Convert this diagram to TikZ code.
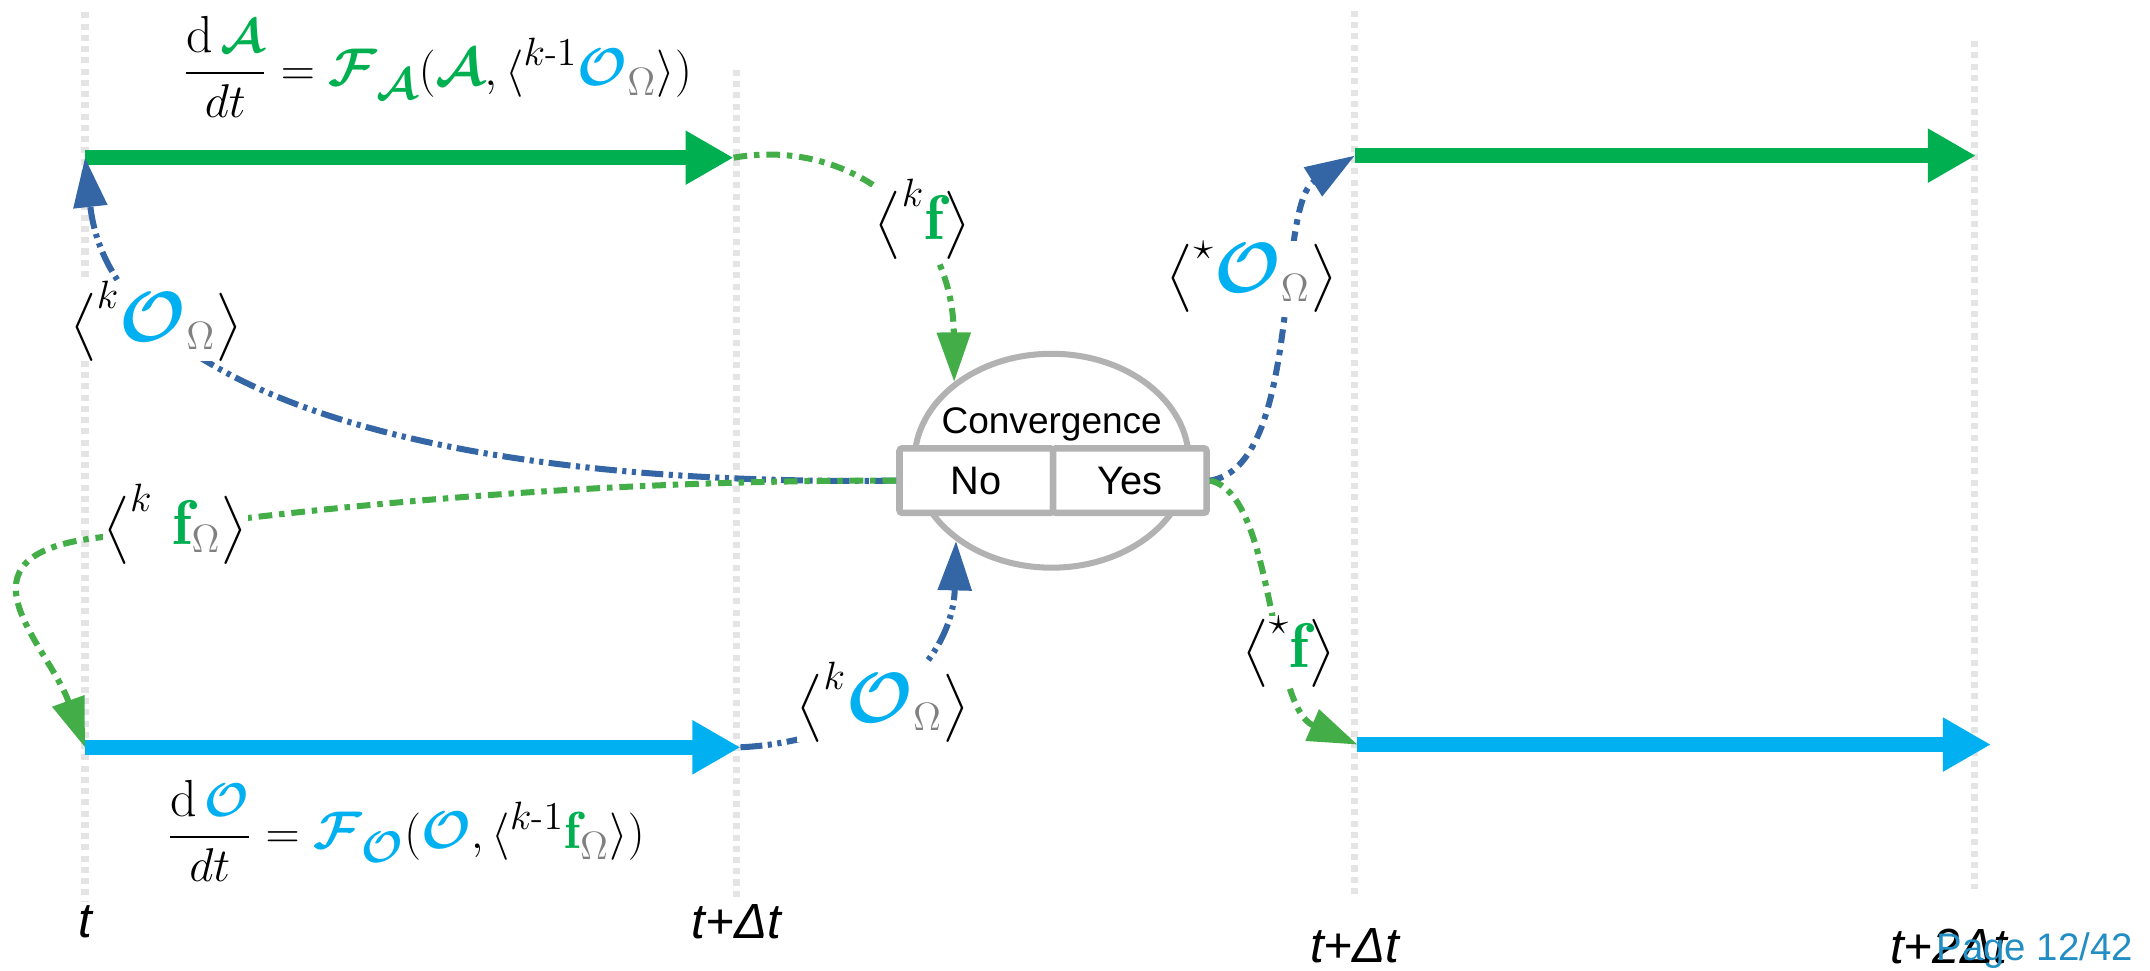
\documentclass[tikz,border=0pt]{standalone}
\usepackage{amsmath}
\usepackage{graphicx}
\usepackage{fontspec}
\newfontfamily\sansf{Liberation Sans}
\usetikzlibrary{arrows.meta,shapes.geometric}
\definecolor{eqgreen}{RGB}{0,176,80}
\definecolor{eqcyan}{RGB}{0,176,240}
\definecolor{omgray}{RGB}{128,128,128}
\definecolor{cgreen}{RGB}{67,174,72}
\definecolor{cblue}{RGB}{52,101,164}
\definecolor{gridgray}{RGB}{228,228,228}
\definecolor{convgray}{RGB}{178,178,178}
\definecolor{pagecol}{RGB}{34,142,196}
\newcommand{\scf}{1.12}
\newcommand{\sff}{1}
\newcommand{\cA}{{\color{eqgreen}\text{\scalebox{\scf}{$\boldsymbol{\mathcal{A}}$}}}}
\newcommand{\cO}{{\color{eqcyan}\text{\scalebox{\scf}{$\boldsymbol{\mathcal{O}}$}}}}
\newcommand{\nA}{{\color{eqgreen}\boldsymbol{\mathcal{A}}}}
\newcommand{\nO}{{\color{eqcyan}\boldsymbol{\mathcal{O}}}}
\newcommand{\cFg}{{\color{eqgreen}\text{\scalebox{\scf}{$\boldsymbol{\mathcal{F}}$}}}}
\newcommand{\cFc}{{\color{eqcyan}\text{\scalebox{\scf}{$\boldsymbol{\mathcal{F}}$}}}}
\newcommand{\Om}{{\color{omgray}\Omega}}
\newcommand{\bff}{{\color{eqgreen}\text{\scalebox{\sff}{$\mathbf{f}$}}}}
\tikzset{
  timeline/.style={draw=gridgray, line width=2.6pt, dash pattern=on 2.2pt off 1.9pt},
  bigarrow/.style={line width=5.5pt, -{Triangle[width=18.5pt,length=17.5pt]}},
  conn/.style={line width=2.2pt, -{Triangle[width=12pt,length=18pt]}},
  dashdot/.style={dash pattern=on 5pt off 2.5pt on 2pt off 2.5pt},
  dashdotdot/.style={dash pattern=on 8pt off 2pt on 1.5pt off 2pt on 1.5pt off 2pt},
  lbl/.style={fill=white, inner sep=0pt, font=\fontsize{20}{22}\selectfont\renewcommand{\scf}{1.25}\renewcommand{\sff}{1.15}},
  eqn/.style={inner sep=0pt, anchor=base, font=\fontsize{19}{22}\selectfont},
  timelbl/.style={inner sep=0pt, font=\sansf\itshape\fontsize{18}{20}\selectfont},
  boxpart/.style={draw=convgray, fill=white, line width=2.4pt, minimum width=56pt,
    minimum height=23.5pt, inner sep=0pt, rounded corners=1pt,
    font=\sansf\fontsize{14.5}{16}\selectfont},
}
\begin{document}
\begin{tikzpicture}[x=0.5pt,y=-0.5pt]
\useasboundingbox (0,0) rectangle (1568,708);
% time lines
\coordinate (L1t) at (62,9);   \coordinate (L1b) at (62,658);
\coordinate (L2t) at (537,51); \coordinate (L2b) at (537,656);
\coordinate (L3t) at (988,8);  \coordinate (L3b) at (988,655);
\coordinate (L4t) at (1440,30);\coordinate (L4b) at (1440,648);
\draw[timeline] (L1t) -- (L1b);
\draw[timeline] (L2t) -- (L2b);
\draw[timeline] (L3t) -- (L3b);
\draw[timeline] (L4t) -- (L4b);
% convergence node
\node[ellipse, draw=convgray, line width=2.2pt, minimum width=100pt, minimum height=78pt, inner sep=0pt] (conv) at (767,336) {};
\node[boxpart] (no) at (712,350.5) {No};
\node[boxpart] (yes) at (824,350.5) {Yes};
\node[anchor=base, inner sep=0pt, font=\sansf\fontsize{13.5}{15}\selectfont] (convtxt) at (767,316) {Convergence};
% thick arrows
\coordinate (A1s) at (62,115);  \coordinate (A1e) at (535,115);
\coordinate (A2s) at (62,545);  \coordinate (A2e) at (540,545);
\coordinate (A3s) at (988,113.5); \coordinate (A3e) at (1441,113.5);
\coordinate (A4s) at (990,543); \coordinate (A4e) at (1452,543);
\draw[bigarrow, eqgreen] (A1s) -- (A1e);
\draw[bigarrow, eqcyan] (A2s) -- (A2e);
\draw[bigarrow, eqgreen] (A3s) -- (A3e);
\draw[bigarrow, eqcyan] (A4s) -- (A4e);
% connectors
\draw[conn, cgreen, dashdot] (A1e) .. controls (620,100) and (695,160) .. (conv.141);
\draw[conn, cblue, dashdotdot] (no.west) .. controls (300,355) and (80,280) .. (A1s);
\coordinate (cvia) at (72,392);
\draw[conn, cgreen, dashdot] (no.west) .. controls (450,350) and (250,366) .. (cvia) .. controls (-40,405) and (35,470) .. (A2s);
\draw[conn, cblue, dashdotdot] (A2e) .. controls (640,540) and (695,480) .. (conv.220);
\draw[conn, cblue, dashdot] (yes.east) .. controls (950,340) and (930,150) .. (A3s);
\draw[conn, cgreen, dashdot] (yes.east) .. controls (930,360) and (925,515) .. (A4s);
% labels
\node[lbl] (lkO) at (114,234) {$\bigl\langle^{k}\cO_{\Om}\bigr\rangle$};
\node[lbl] (lkfO) at (128,382) {$\bigl\langle^{k}\hspace{7pt}\bff_{\Om}\bigr\rangle$};
\node[lbl] (lkf) at (673,160) {$\bigl\langle^{k}\bff\bigr\rangle$};
\node[lbl] (lsO) at (913,202) {$\bigl\langle^{\star}\cO_{\Om}\bigr\rangle$};
\node[lbl] (lkOb) at (644,512) {$\bigl\langle^{k}\cO_{\Om}\bigr\rangle$};
\node[lbl] (lsf) at (940,475) {$\bigl\langle^{\star}\bff\bigr\rangle$};
% equations
\node[eqn] (eqA) at (319,62) {$\displaystyle\frac{\mathrm{d}\,\nA}{dt} = \cFg_{\cA}(\cA, \langle^{k\text{-}1}\cO_{\Om}\rangle)$};
\node[eqn] (eqO) at (296,619) {$\displaystyle\frac{\mathrm{d}\,\nO}{dt} = \cFc_{\cO}(\cO, \langle^{k\text{-}1}\bff_{\Om}\rangle)$};
% time labels
\node[timelbl] (t0) at (62,672) {t};
\node[timelbl] (t1) at (537,672) {t+Δt};
\node[timelbl] (t2) at (988,690) {t+Δt};
\node[timelbl] (t3) at (1421,690) {t+2Δt};
\node[inner sep=0pt, text=pagecol, font=\sansf\fontsize{14}{16}\selectfont] (page) at (1484,693) {Page 12/42};
\end{tikzpicture}
\end{document}
